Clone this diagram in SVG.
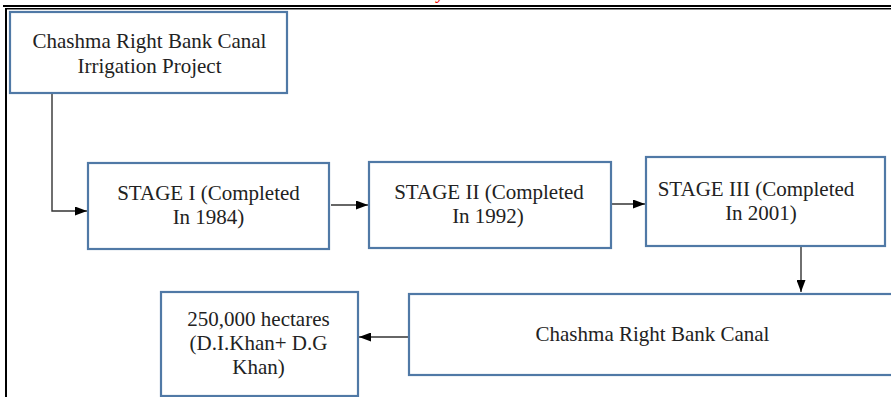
<svg xmlns="http://www.w3.org/2000/svg" width="891" height="397" viewBox="0 0 891 397">
<style>
.box{fill:#fff;stroke:#5079a6;stroke-width:2.2}
.t{font-family:"Liberation Serif","Times New Roman",serif;font-size:21px;fill:#222;text-anchor:middle}
.c{fill:none;stroke:#333;stroke-width:1.4}
</style>
<defs>
<marker id="ah" markerWidth="12" markerHeight="9" refX="12" refY="4.5" orient="auto" markerUnits="userSpaceOnUse">
<path d="M0,0 L12,4.5 L0,9 Z" fill="#000"/>
</marker>
</defs>
<rect width="891" height="397" fill="#fff"/>
<g id="page-border">
<rect x="3" y="5" width="888" height="2" fill="#000"/>
<rect x="5" y="8" width="886" height="1" fill="#000"/>
<rect x="5" y="9" width="886" height="1" fill="#888"/>
<rect x="5" y="8" width="2" height="389" fill="#000"/>
<text x="437" y="-1.5" font-family="Liberation Serif,serif" font-size="16" font-style="italic" font-weight="bold" fill="#e00">y</text>
</g>
<g id="connectors">
<polyline class="c" points="52,93 52,211 87,211" marker-end="url(#ah)"/>
<line class="c" x1="331" y1="205" x2="368" y2="205" marker-end="url(#ah)"/>
<line class="c" x1="612" y1="204" x2="645" y2="204" marker-end="url(#ah)"/>
<line class="c" x1="801" y1="247" x2="801" y2="292" marker-end="url(#ah)"/>
<line class="c" x1="408" y1="337" x2="359" y2="337" marker-end="url(#ah)"/>
</g>
<g id="node-project">
<rect class="box" x="10" y="12" width="277" height="81"/>
<text class="t" x="149.5" y="48">Chashma Right Bank Canal</text>
<text class="t" x="149.5" y="73">Irrigation Project</text>
</g>
<g id="node-stage1">
<rect class="box" x="88" y="163" width="241" height="86"/>
<text class="t" x="208.5" y="200">STAGE I (Completed</text>
<text class="t" x="208.5" y="224">In 1984)</text>
</g>
<g id="node-stage2">
<rect class="box" x="369" y="162" width="242" height="86"/>
<text class="t" x="489" y="199">STAGE II (Completed</text>
<text class="t" x="488" y="223">In 1992)</text>
</g>
<g id="node-stage3">
<rect class="box" x="646" y="157" width="239" height="89"/>
<text class="t" x="756" y="195.5">STAGE III (Completed</text>
<text class="t" x="761" y="219.5">In 2001)</text>
</g>
<g id="node-crbc">
<rect class="box" x="409" y="294" width="500" height="81"/>
<text class="t" x="652.5" y="341">Chashma Right Bank Canal</text>
</g>
<g id="node-area">
<rect class="box" x="161" y="292" width="197" height="104"/>
<text class="t" x="258.5" y="326">250,000 hectares</text>
<text class="t" x="258.5" y="350">(D.I.Khan+ D.G</text>
<text class="t" x="258.5" y="374">Khan)</text>
</g>
</svg>
